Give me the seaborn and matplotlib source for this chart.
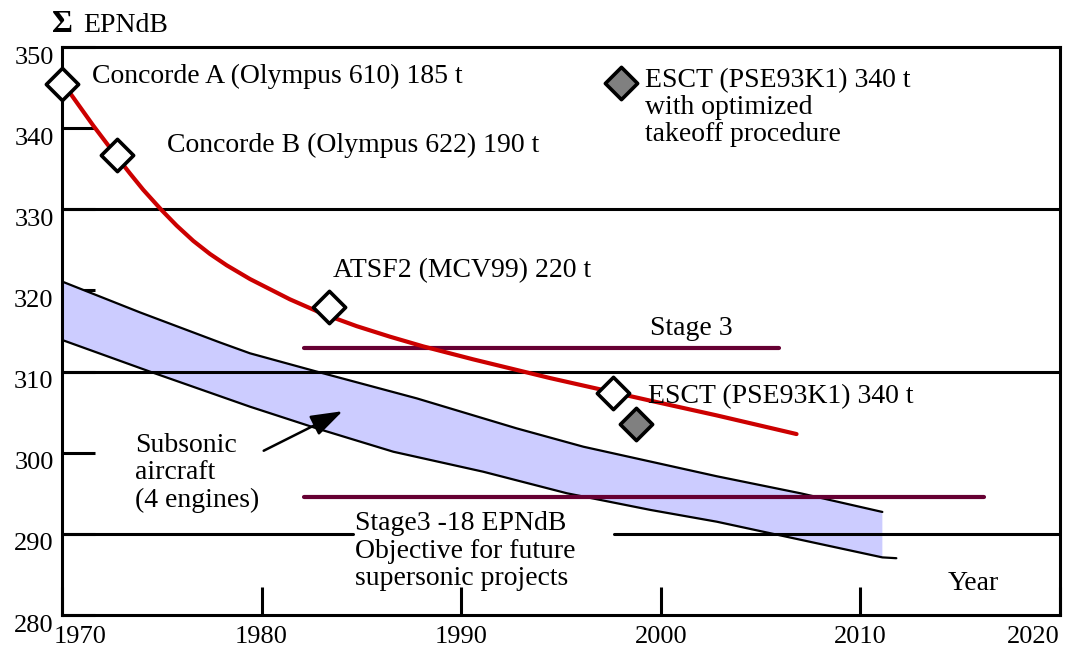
import numpy as np
import pandas as pd
import matplotlib
matplotlib.use("Agg")
import matplotlib.pyplot as plt
from matplotlib.transforms import ScaledTranslation
import seaborn as sns

# ---------------- data ----------------
red_years = [1970.15, 1971.57, 1972.74, 1973.41, 1974.07, 1974.99, 1975.74, 1976.58,
             1977.41, 1978.25, 1979.42, 1981.42, 1983.09, 1984.76, 1986.43, 1988.10,
             1990.61, 1994.45, 1999.5, 2002.8, 2006.8]
red_epn = [345.2, 340.3, 336.5, 334.4, 332.4, 329.9, 328.0, 326.1,
           324.5, 323.1, 321.4, 318.9, 317.1, 315.6, 314.3, 313.1,
           311.5, 309.2, 306.4, 304.6, 302.3]

band_upper_years = [1970.0, 1973.9, 1977.9, 1979.42, 1982.76, 1987.77, 1992.78, 1996.12,
                    1999.5, 2002.8, 2007.0, 2011.1]
band_upper_epn = [321.1, 317.3, 313.6, 312.25, 310.0, 306.7, 303.0, 300.74,
                  298.9, 297.1, 295.0, 292.7]
band_lower_years = [1970.0, 1974.4, 1979.42, 1982.76, 1986.6, 1991.1, 1995.3, 1999.5,
                    2002.8, 2011.1, 2011.8]
band_lower_epn = [313.9, 310.0, 305.67, 303.0, 300.12, 297.66, 295.0, 292.94,
                  291.5, 287.1, 287.0]

open_names = ["Concorde A", "Concorde B", "ATSF2", "ESCT"]
open_years = [1970.0, 1972.76, 1983.4, 1997.6]
open_epn = [345.44, 336.7, 317.9, 307.4]
filled_years = [1998.76, 1998.0]
filled_epn = [303.5, 345.6]

stage3_years = [1982.1, 2005.9]
stage3_epn = [312.9, 312.9]
objective_years = [1982.1, 2016.2]
objective_epn = [294.6, 294.6]

grid_values = [330, 310, 290]
x_ticks = [1970, 1980, 1990, 2000, 2010, 2020]
y_ticks = [280, 290, 300, 310, 320, 330, 340, 350]

# ---------------- style ----------------
sns.set_theme(style="white")
plt.rcParams["font.family"] = ["Liberation Serif", "DejaVu Serif"]
plt.rcParams["text.color"] = "black"
plt.rcParams["axes.linewidth"] = 2.2

FS = 20
fig = plt.figure(figsize=(10.69, 6.56), dpi=100)
W, H = 1069, 656
ax = fig.add_axes([62 / W, 1 - 615 / H, 998 / W, 568 / H])
ax.set_xlim(1970, 2020)
ax.set_ylim(280, 350)
for s in ax.spines.values():
    s.set_color("black")
    s.set_linewidth(2.2)

# band fill (lower edge up to the end of the upper edge)
n_fill = len(band_lower_years) - 1
poly_x = np.concatenate([band_upper_years, band_lower_years[:n_fill][::-1]])
poly_y = np.concatenate([band_upper_epn, band_lower_epn[:n_fill][::-1]])
ax.fill(poly_x, poly_y, color="#ccccff", lw=0, zorder=1)

# gridlines
for g in grid_values:
    if g == 290:
        ax.axhline(g, xmax=(353 - 62) / 998, color="black", lw=2.2, zorder=2)
        ax.axhline(g, xmin=(614 - 62) / 998, color="black", lw=2.2, zorder=2)
    else:
        ax.axhline(g, color="black", lw=2.2, zorder=2)

up = pd.DataFrame({"year": band_upper_years, "epn": band_upper_epn})
lo = pd.DataFrame({"year": band_lower_years, "epn": band_lower_epn})
sns.lineplot(data=up, x="year", y="epn", color="black", lw=1.6, ax=ax, zorder=2.5)
sns.lineplot(data=lo, x="year", y="epn", color="black", lw=1.6, ax=ax, zorder=2.5)

st = pd.DataFrame({"year": stage3_years, "epn": stage3_epn})
ob = pd.DataFrame({"year": objective_years, "epn": objective_epn})
sns.lineplot(data=st, x="year", y="epn", color="#660033", lw=3.0, ax=ax, zorder=3)
sns.lineplot(data=ob, x="year", y="epn", color="#660033", lw=3.0, ax=ax, zorder=3)

red = pd.DataFrame({"year": red_years, "epn": red_epn})
sns.lineplot(data=red, x="year", y="epn", color="#cc0000", lw=3.0, ax=ax, zorder=4)

od = pd.DataFrame({"year": open_years, "epn": open_epn, "name": open_names})
sns.scatterplot(data=od, x="year", y="epn", marker="D", s=270, facecolor="white",
                edgecolor="black", linewidth=2.6, ax=ax, zorder=5, clip_on=False)
fd = pd.DataFrame({"year": filled_years, "epn": filled_epn})
sns.scatterplot(data=fd, x="year", y="epn", marker="D", s=270, facecolor="#808080",
                edgecolor="black", linewidth=2.6, ax=ax, zorder=5, clip_on=False)

# ticks
ax.set_xticks(x_ticks)
ax.set_yticks(y_ticks)
ax.set_xticklabels([str(t) for t in x_ticks])
ax.set_yticklabels([str(t) for t in y_ticks])
ax.tick_params(axis="x", direction="in", length=20, width=2.2, pad=8,
               labelsize=FS - 1, colors="black", bottom=True)
ax.tick_params(axis="y", direction="in", length=23.8, width=2.2, pad=6,
               labelsize=FS - 1, colors="black", left=True)
for lab in ax.get_yticklabels():
    lab.set_transform(lab.get_transform() + ScaledTranslation(0, -0.08, fig.dpi_scale_trans))
xl = ax.get_xticklabels()
xl[0].set_transform(xl[0].get_transform() + ScaledTranslation(0.18, 0, fig.dpi_scale_trans))
xl[-1].set_transform(xl[-1].get_transform() + ScaledTranslation(-0.27, 0, fig.dpi_scale_trans))
ax.set_xlabel("")
ax.set_ylabel("")

# annotations
kw = dict(fontsize=FS, color="black", va="baseline", ha="left", zorder=6)


def multiline(x, y, lines, step_px=27.5):
    for i, line in enumerate(lines):
        tr = ax.transData + ScaledTranslation(0, -i * step_px / 100, fig.dpi_scale_trans)
        ax.text(x, y, line, transform=tr, **kw)


ax.text(1971.50, 345.56, "Concorde A (Olympus 610) 185 t", **kw)
ax.text(1975.26, 337.06, "Concorde B (Olympus 622) 190 t", **kw)
ax.text(1983.58, 321.65, "ATSF2 (MCV99) 220 t", **kw)
ax.text(1999.46, 314.51, "Stage 3", **kw)
ax.text(1999.36, 306.13, "ESCT (PSE93K1) 340 t", **kw)
multiline(1999.21, 345.07, ["ESCT (PSE93K1) 340 t", "with optimized", "takeoff procedure"], 27)
multiline(1973.66, 300.09, ["Subsonic", "aircraft", "(4 engines)"])
multiline(1984.68, 290.47, ["Stage3 -18 EPNdB", "Objective for future", "supersonic projects"])
ax.text(2014.39, 283.08, "Year", **kw)

ax.annotate("", xy=(1984.18, 305.27), xytext=(1979.98, 300.09),
            arrowprops=dict(arrowstyle="-|>,head_length=0.65,head_width=0.22",
                            mutation_scale=30, lw=1.8, color="black"),
            zorder=6)

fig.text(52 / W, 1 - 32 / H, "Σ", fontsize=23, fontweight="bold", va="baseline", ha="left")
fig.text(83 / W, 1 - 32 / H, "EPNdB", fontsize=FS, va="baseline", ha="left")

fig.savefig("out.png", dpi=100, facecolor="white")
